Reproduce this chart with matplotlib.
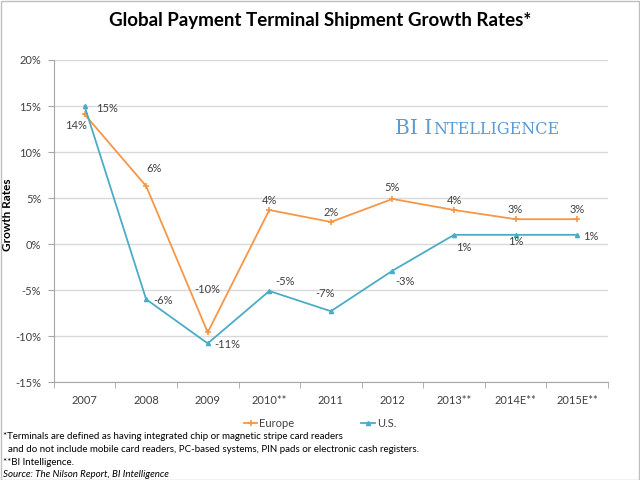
import numpy as np
import matplotlib.pyplot as plt
from matplotlib.patches import Rectangle

plt.rcParams['font.family'] = ['Lato', 'DejaVu Sans']

years = ["2007", "2008", "2009", "2010**", "2011", "2012", "2013**", "2014E**", "2015E**"]
europe = [14.1, 6.3, -9.6, 3.7, 2.4, 4.9, 3.7, 2.7, 2.7]
us = [15.0, -6.0, -10.8, -5.1, -7.3, -2.9, 1.0, 1.0, 1.0]

# label offsets in points (dx, dy)
eu_off = [(-6, -8), (6, 13), (0, 31), (0, 7), (0, 7), (0, 8), (0, 7), (0, 7), (0, 7)]
us_off = [(16, -2), (12, -1), (14, -1), (11, 7), (-4, 13), (9, -8), (7, -9), (0, -5), (10, -1)]

c_eu = '#f79646'
c_us = '#4bacc6'
txt = '#404040'

fig = plt.figure(figsize=(6.4, 4.8), dpi=100)
ax = fig.add_axes([0.084, 0.204, 0.866, 0.671])

x = np.arange(len(years))
ax.plot(x, europe, color=c_eu, lw=1.3, marker='+', ms=4, mew=1.2, label='Europe', zorder=3)
ax.plot(x, us, color=c_us, lw=1.3, marker='^', ms=3, label='U.S.', zorder=3)

for i in range(len(x)):
    dx, dy = eu_off[i]
    ax.annotate(f"{europe[i]:.0f}%", (x[i], europe[i]), xytext=(dx, dy), textcoords='offset points',
                ha='center', va='center', fontsize=8, color=txt)
    dx, dy = us_off[i]
    ax.annotate(f"{us[i]:.0f}%", (x[i], us[i]), xytext=(dx, dy), textcoords='offset points',
                ha='center', va='center', fontsize=8, color=txt)

ax.set_xlim(-0.5, len(years) - 0.5)
ax.set_ylim(-15, 20)
ax.set_yticks(np.arange(-15, 21, 5))
ax.set_yticklabels([f"{v}%" for v in range(-15, 21, 5)])
ax.set_xticks(x)
ax.set_xticklabels(years)
ax.set_xticks(np.arange(-0.5, len(years), 1), minor=True)
ax.tick_params(axis='x', which='major', length=0, pad=9, labelsize=8, labelcolor=txt)
ax.tick_params(axis='x', which='minor', length=4, color='#a6a6a6', direction='out')
ax.tick_params(axis='y', length=4, color='#a6a6a6', labelsize=8, labelcolor=txt, pad=5)
ax.grid(axis='y', color='#d9d9d9', lw=1)
ax.set_axisbelow(True)
for s in ['top', 'right']:
    ax.spines[s].set_visible(False)
ax.spines['left'].set_color('#a6a6a6')
ax.spines['bottom'].set_color('#a6a6a6')
ax.set_ylabel("Growth Rates", fontsize=8.5, fontweight='bold')
ax.yaxis.set_label_coords(-0.074, 0.52)

# watermark in small caps
t1 = ax.text(0.615, 0.77, "BI I", transform=ax.transAxes, fontsize=14.5, color='#5b9bd5',
             family='DejaVu Serif', va='baseline')
ax.annotate("NTELLIGENCE", xy=(1, 0), xycoords=t1, xytext=(1, 0), textcoords='offset points',
            fontsize=11.5, color='#5b9bd5', family='DejaVu Serif', va='bottom')

fig.suptitle("Global Payment Terminal Shipment Growth Rates*", x=0.5, y=0.975, fontsize=13.5,
             fontweight='bold', color='black')

fig.legend(loc='center', bbox_to_anchor=(0.5, 0.117), ncol=2, frameon=False, fontsize=8,
           handlelength=1.2, columnspacing=6, handletextpad=0.2, labelcolor=txt)

fig.text(0.005, 0.09, "*Terminals are defined as having integrated chip or magnetic stripe card readers",
         fontsize=7, color='black', va='center')
fig.text(0.005, 0.063, "  and do not include mobile card readers, PC-based systems, PIN pads or electronic cash registers.",
         fontsize=7, color='black', va='center')
fig.text(0.005, 0.037, "**BI Intelligence.", fontsize=7, color='black', va='center')
fig.text(0.005, 0.012, "Source: The Nilson Report, BI Intelligence", fontsize=7, style='italic',
         color='black', va='center')

fig.patches.append(Rectangle((0.001, 0.001), 0.997, 0.997, transform=fig.transFigure, fill=False,
                             edgecolor='#bfbfbf', lw=1))

fig.savefig("out.png", dpi=100)
